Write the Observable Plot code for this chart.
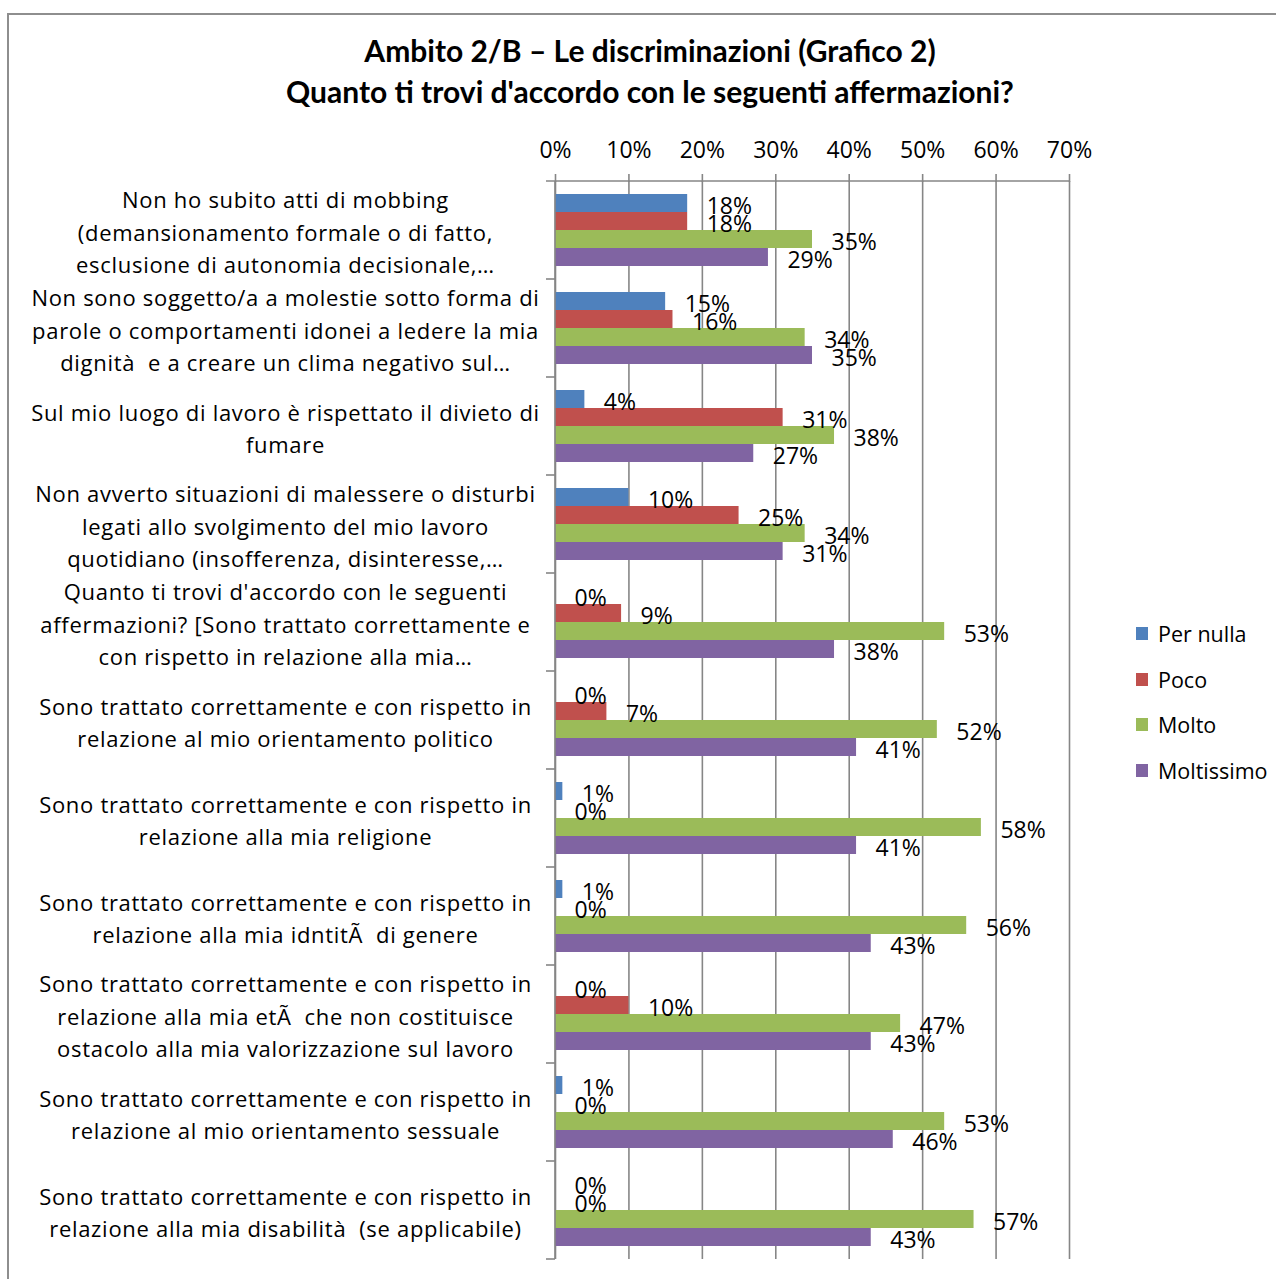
<!DOCTYPE html>
<html>
<head>
<meta charset="utf-8">
<script src="https://cdn.jsdelivr.net/npm/d3@7"></script>
<script src="https://cdn.jsdelivr.net/npm/@observablehq/plot@0.6"></script>
<style>
  html, body { margin: 0; padding: 0; background: #fff; }
  #wrap { position: relative; width: 1276px; height: 1279px; overflow: hidden; background: #fff; }
  #frame { position: absolute; left: 7px; top: 13px; width: 1300px; height: 1300px; border: 2px solid #8e8e8e; box-sizing: border-box; }
  #title { position: absolute; left: 0; top: 0; width: 1300px; padding-top: 30px; text-align: center;
           font-family: Lato, sans-serif; font-weight: 700; font-size: 30px; line-height: 41px; color: #000; }
  #chart { position: absolute; left: 0; top: 120px; }
  #legend { position: absolute; left: 1136px; top: 0; font-family: "Open Sans", sans-serif; font-size: 21.5px; color: #000; }
  .item { position: absolute; left: 0; white-space: nowrap; height: 30px; }
  .sw { position: absolute; left: 0; top: 8px; width: 12px; height: 13px; }
  .lab { position: absolute; left: 22px; top: 0; line-height: 30px; }
  svg text { white-space: pre; }
  svg .catlab text { letter-spacing: 0.7px; }
</style>
</head>
<body>
<div id="wrap">
  <div id="frame"></div>
  <div id="title">Ambito 2/B – Le discriminazioni (Grafico 2)<br>Quanto ti trovi d'accordo con le seguenti affermazioni?</div>
  <div id="chart"></div>
  <div id="legend"></div>
</div>
<script>
const categories = [
  "Non ho subito atti di mobbing\n(demansionamento formale o di fatto,\nesclusione di autonomia decisionale,…",
  "Non sono soggetto/a a molestie sotto forma di\nparole o comportamenti idonei a ledere la mia\ndignità  e a creare un clima negativo sul…",
  "Sul mio luogo di lavoro è rispettato il divieto di\nfumare",
  "Non avverto situazioni di malessere o disturbi\nlegati allo svolgimento del mio lavoro\nquotidiano (insofferenza, disinteresse,…",
  "Quanto ti trovi d'accordo con le seguenti\naffermazioni? [Sono trattato correttamente e\ncon rispetto in relazione alla mia…",
  "Sono trattato correttamente e con rispetto in\nrelazione al mio orientamento politico",
  "Sono trattato correttamente e con rispetto in\nrelazione alla mia religione",
  "Sono trattato correttamente e con rispetto in\nrelazione alla mia idntitÃ  di genere",
  "Sono trattato correttamente e con rispetto in\nrelazione alla mia etÃ  che non costituisce\nostacolo alla mia valorizzazione sul lavoro",
  "Sono trattato correttamente e con rispetto in\nrelazione al mio orientamento sessuale",
  "Sono trattato correttamente e con rispetto in\nrelazione alla mia disabilità  (se applicabile)"
];
const series = ["Per nulla", "Poco", "Molto", "Moltissimo"];
const colors = ["#4F81BD", "#C0504D", "#9BBB59", "#8064A2"];
const perNulla   = [18, 15,  4, 10,  0,  0,  1,  1,  0,  1,  0];
const poco       = [18, 16, 31, 25,  9,  7,  0,  0, 10,  0,  0];
const molto      = [35, 34, 38, 34, 53, 52, 58, 56, 47, 53, 57];
const moltissimo = [29, 35, 27, 31, 38, 41, 41, 43, 43, 46, 43];
const xTicks = [0, 10, 20, 30, 40, 50, 60, 70];

const seriesValues = [perNulla, poco, molto, moltissimo];
const rows = [];
categories.forEach((cat, i) => {
  series.forEach((s, j) => rows.push({cat, series: s, value: seriesValues[j][i]}));
});

const gridColor = "#868686";

const plot = Plot.plot({
  width: 1276,
  height: 1159,
  marginTop: 61,
  marginBottom: 20,
  marginLeft: 555,
  marginRight: 207,
  style: {fontFamily: "'Open Sans', sans-serif", fontSize: "23px", color: "#000", background: "transparent", overflow: "visible"},
  x: {domain: [0, 70], axis: "top", ticks: xTicks, tickFormat: d => d + "%", tickSize: 8, tickPadding: 16, label: null},
  y: {domain: series, axis: null, paddingInner: 0, paddingOuter: 0.72},
  fy: {domain: categories, axis: null, padding: 0},
  color: {domain: series, range: colors},
  marks: [
    Plot.ruleX(xTicks, {stroke: gridColor, strokeWidth: 1.6}),
    Plot.barX(rows, {x: "value", y: "series", fy: "cat", fill: "series"}),
    Plot.text(rows, {x: "value", y: "series", fy: "cat", text: d => d.value + "%", textAnchor: "start", dx: 19, dy: 3, fontSize: 23, fill: "#000", className: "vallab"}),
    Plot.text(categories, {fy: d => d, text: d => d, frameAnchor: "left", textAnchor: "middle", dx: -270, fontSize: 22, lineHeight: 1.477, fill: "#000", className: "catlab"})
  ]
});

document.getElementById("chart").appendChild(plot);

// axis styling: gray tick lines
d3.select(plot).selectAll("[aria-label='x-axis tick'] path, [aria-label='x-axis tick'] line").attr("stroke", gridColor).attr("stroke-width", 1.6);

// axis lines and category tick marks from the library's scales
const xs = plot.scale("x");
const fys = plot.scale("fy");
const x0 = xs.apply(0), x1 = xs.apply(70);
const bounds = categories.map(c => fys.apply(c));
bounds.push(fys.apply(categories[categories.length - 1]) + fys.bandwidth);
const g = d3.select(plot).append("g").attr("stroke", gridColor).attr("stroke-width", 1.6);
g.append("line").attr("x1", x0).attr("x2", x0).attr("y1", bounds[0]).attr("y2", bounds[bounds.length - 1]);
g.append("line").attr("x1", x0 - 9).attr("x2", x1).attr("y1", bounds[0]).attr("y2", bounds[0]);
bounds.slice(1).forEach(b => g.append("line").attr("x1", x0 - 9).attr("x2", x0).attr("y1", b).attr("y2", b));

// legend
const legend = document.getElementById("legend");
const legendTops = [619, 665, 710, 756];
series.forEach((s, i) => {
  const it = document.createElement("div");
  it.className = "item";
  it.style.top = legendTops[i] + "px";
  it.innerHTML = `<div class="sw" style="background:${colors[i]}"></div><div class="lab">${s}</div>`;
  legend.appendChild(it);
});
</script>
</body>
</html>
